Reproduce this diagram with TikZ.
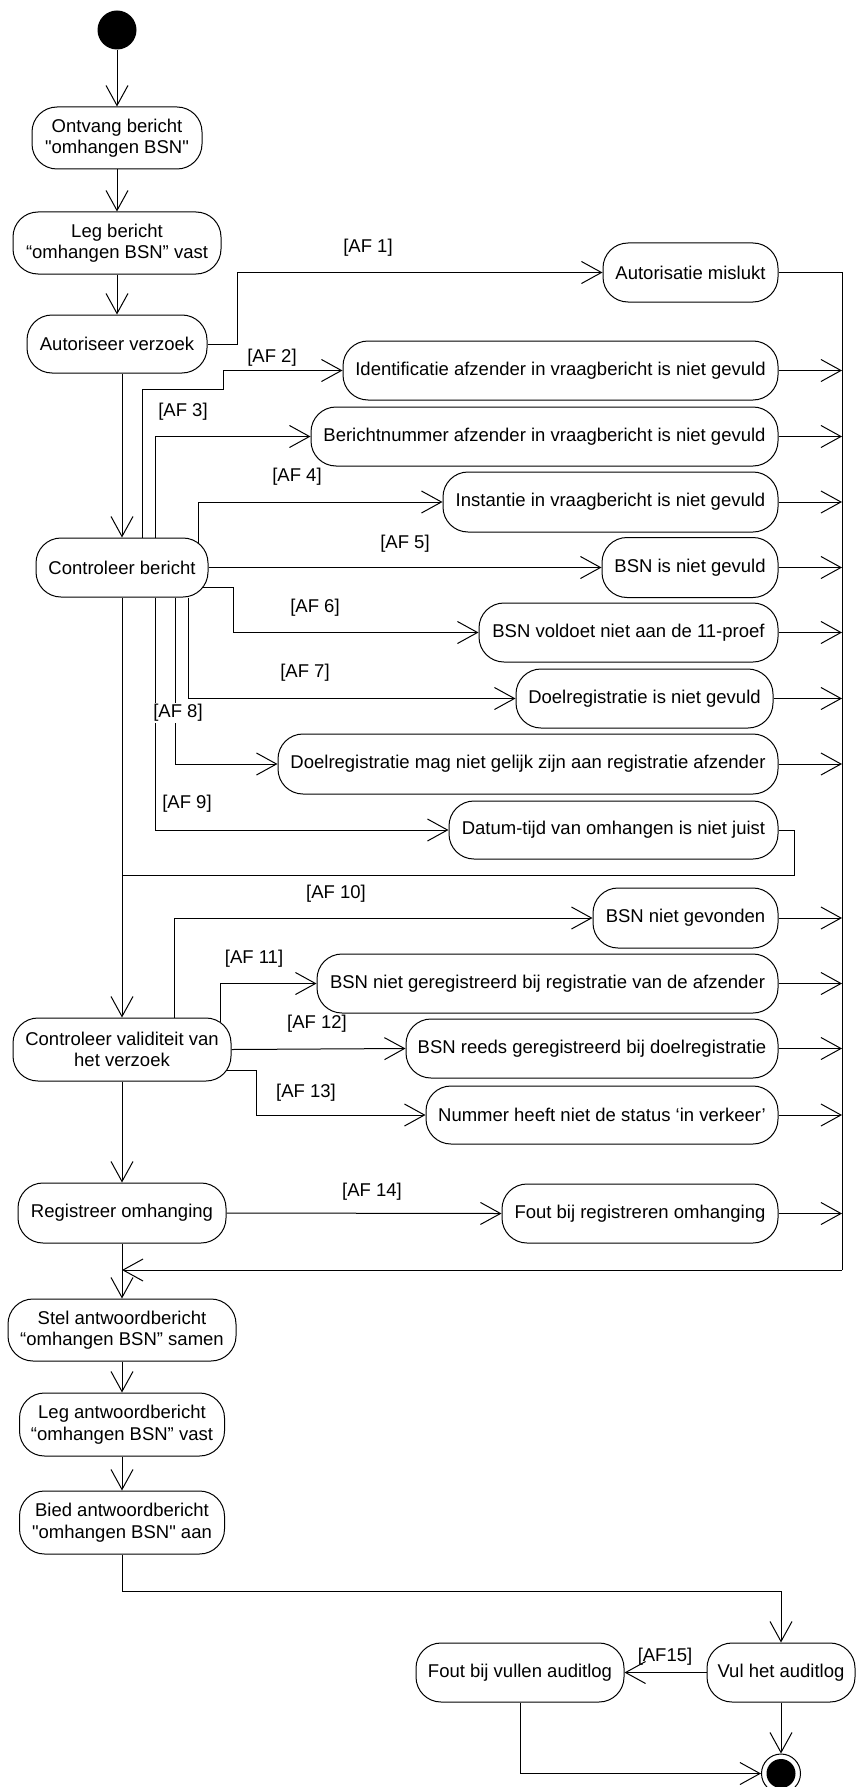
\documentclass[tikz,border=0pt]{standalone}
\usepackage{fontspec}
\setmainfont{Liberation Sans}[Ligatures=TeXOff]
\usetikzlibrary{arrows.meta}
\begin{document}
\begin{tikzpicture}[x=1pt,y=-1pt,line width=1pt,
  >={Straight Barb[length=20pt,width=22pt]},
  txt/.style={font=\fontsize{18.5}{21.5}\selectfont},
  act/.style={txt,draw,rounded corners=25pt,minimum height=59pt,inner sep=0pt,align=center},
  lbl/.style={txt,inner sep=0pt},
  flow/.style={->}]
\useasboundingbox (0,0) rectangle (855,1787);

% start / end
\node[circle,fill=black,minimum size=39pt,inner sep=0pt] (start) at (117,30) {};
\node[circle,draw,minimum size=39pt,inner sep=0pt] (end) at (781,1773.5) {};
\fill[black] (end.center) circle (14.5pt);

% main column
\node[act,minimum width=170pt,minimum height=62pt] (ontvang) at (117,138) {Ontvang bericht\\"omhangen BSN"};
\node[act,minimum width=208pt,minimum height=62pt] (leg) at (117,243) {Leg bericht\\“omhangen BSN” vast};
\node[act,minimum width=180pt,minimum height=58pt] (autor) at (117,344) {Autoriseer verzoek};
\node[act,minimum width=172pt] (contr) at (122,567.5) {Controleer bericht};
\node[act,minimum width=218pt,minimum height=63pt] (valid) at (122,1049.5) {Controleer validiteit van\\het verzoek};
\node[act,minimum width=208pt,minimum height=60pt] (registr) at (122,1213) {Registreer omhanging};
\node[act,minimum width=228pt,minimum height=62pt] (stel) at (122,1330) {Stel antwoordbericht\\“omhangen BSN” samen};
\node[act,minimum width=205pt,minimum height=63pt] (legant) at (122,1424.5) {Leg antwoordbericht\\“omhangen BSN” vast};
\node[act,minimum width=205pt,minimum height=63pt] (bied) at (122,1522.5) {Bied antwoordbericht\\"omhangen BSN" aan};

% error boxes
\node[act,minimum width=175pt] (mislukt) at (690.5,272.5) {Autorisatie mislukt};
\node[act,minimum width=435pt] (ident) at (560.5,370.5) {Identificatie afzender in vraagbericht is niet gevuld};
\node[act,minimum width=467pt] (bericht) at (544.5,436.5) {Berichtnummer afzender in vraagbericht is niet gevuld};
\node[act,minimum width=335pt,minimum height=60pt] (inst) at (610.5,502) {Instantie in vraagbericht is niet gevuld};
\node[act,minimum width=176pt,minimum height=60pt] (bsnleeg) at (690,567.5) {BSN is niet gevuld};
\node[act,minimum width=299pt] (proef) at (628.5,632.5) {BSN voldoet niet aan de 11-proef};
\node[act,minimum width=257pt] (doelleeg) at (644.5,698.5) {Doelregistratie is niet gevuld};
\node[act,minimum width=500pt,minimum height=60pt] (doelgelijk) at (528,764) {Doelregistratie mag niet gelijk zijn aan registratie afzender};
\node[act,minimum width=329pt,minimum height=58pt] (datum) at (613.5,830) {Datum-tijd van omhangen is niet juist};
\node[act,minimum width=185pt,minimum height=60pt] (nietgev) at (685.5,918) {BSN niet gevonden};
\node[act,minimum width=461pt] (nietreg) at (547.5,983.5) {BSN niet geregistreerd bij registratie van de afzender};
\node[act,minimum width=372pt] (reeds) at (592,1048.5) {BSN reeds geregistreerd bij doelregistratie};
\node[act,minimum width=352pt,minimum height=58pt] (status) at (602,1115) {Nummer heeft niet de status ‘in verkeer’};
\node[act,minimum width=276pt] (fout) at (640,1213.5) {Fout bij registreren omhanging};
\node[act,minimum width=148pt] (vul) at (781,1672.5) {Vul het auditlog};
\node[act,minimum width=208pt] (foutlog) at (520,1672.5) {Fout bij vullen auditlog};

% bus coordinates
\coordinate (busTop) at (842,272.5);
\coordinate (busBot) at (842,1270);
\coordinate (join) at (122,1270);
\coordinate (ret9) at (122,875);

% main flow
\draw[flow] (start) -- (ontvang);
\draw[flow] (ontvang) -- (leg);
\draw[flow] (leg) -- (autor);
\draw[flow] ([xshift=5pt]autor.south) -- (contr.north);
\draw[flow] (contr.south) -- (valid.north);
\draw[flow] (valid.south) -- (registr.north);
\draw[flow] (registr.south) -- (stel.north);
\draw[flow] (stel) -- (legant);
\draw[flow] (legant) -- (bied);
\draw[flow] (bied.south) -- ++(0,37) -| (vul.north);
\draw[flow] (vul.west) -- (foutlog.east);
\draw[flow] (vul.south) -- (end.north);
\draw[flow] (foutlog.south) |- (end.west);

% AF1
\draw[flow] (autor.east) -- ++(30,0) |- (mislukt.west);
\draw (mislukt.east) -- (busTop) -- (busBot);
\draw[flow] (busBot) -- (join);

% AF2 - AF9
\draw[flow] ([xshift=20pt]contr.north) -- ++(0,-148) -- ++(81,0) |- (ident.west);
\draw[flow] ([xshift=33pt]contr.north) |- (bericht.west);
\draw[flow] ([xshift=76pt,yshift=-5pt]contr.north) |- (inst.west);
\draw[flow] (contr.east) -- (bsnleeg.west);
\draw[flow] ([xshift=81pt,yshift=-20pt]contr.center) -- ++(30,0) |- (proef.west);
\draw[flow] ([xshift=66pt]contr.south) |- (doelleeg.west);
\draw[flow] ([xshift=53pt]contr.south) |- (doelgelijk.west);
\draw[flow] ([xshift=33pt]contr.south) |- (datum.west);
\draw (datum.east) -- ++(16,0) |- (ret9);

% AF10 - AF13
\draw[flow] ([xshift=52pt]valid.north) |- (nietgev.west);
\draw[flow] ([xshift=98pt,yshift=-4pt]valid.north) |- (nietreg.west);
\draw[flow] (valid.east) -- (reeds.west);
\draw[flow] ([xshift=105pt,yshift=-20.5pt]valid.center) -- ++(29,0) |- (status.west);

% AF14
\draw[flow] (registr.east) -- (fout.west);

% arrows into the bus
\foreach \n in {ident,bericht,inst,bsnleeg,proef,doelleeg,doelgelijk,nietgev,nietreg,reeds,status,fout}
  \draw[flow] (\n.east) -- (\n.east -| busTop);

% labels
\node[lbl] (l1) at (368,248) {[AF 1]};
\node[lbl] (l2) at (272,358) {[AF 2]};
\node[lbl] (l3) at (183,412) {[AF 3]};
\node[lbl] (l4) at (297,477) {[AF 4]};
\node[lbl] (l5) at (405,544) {[AF 5]};
\node[lbl] (l6) at (315,608) {[AF 6]};
\node[lbl] (l7) at (305,673) {[AF 7]};
\node[lbl,fill=white,inner sep=1pt] (l8) at (178,713) {[AF 8]};
\node[lbl] (l9) at (187,804) {[AF 9]};
\node[lbl] (l10) at (336,894) {[AF 10]};
\node[lbl] (l11) at (254,959) {[AF 11]};
\node[lbl] (l12) at (317,1024) {[AF 12]};
\node[lbl] (l13) at (306,1093) {[AF 13]};
\node[lbl] (l14) at (372,1192) {[AF 14]};
\node[lbl] (l15) at (665,1657) {[AF15]};
\end{tikzpicture}
\end{document}
